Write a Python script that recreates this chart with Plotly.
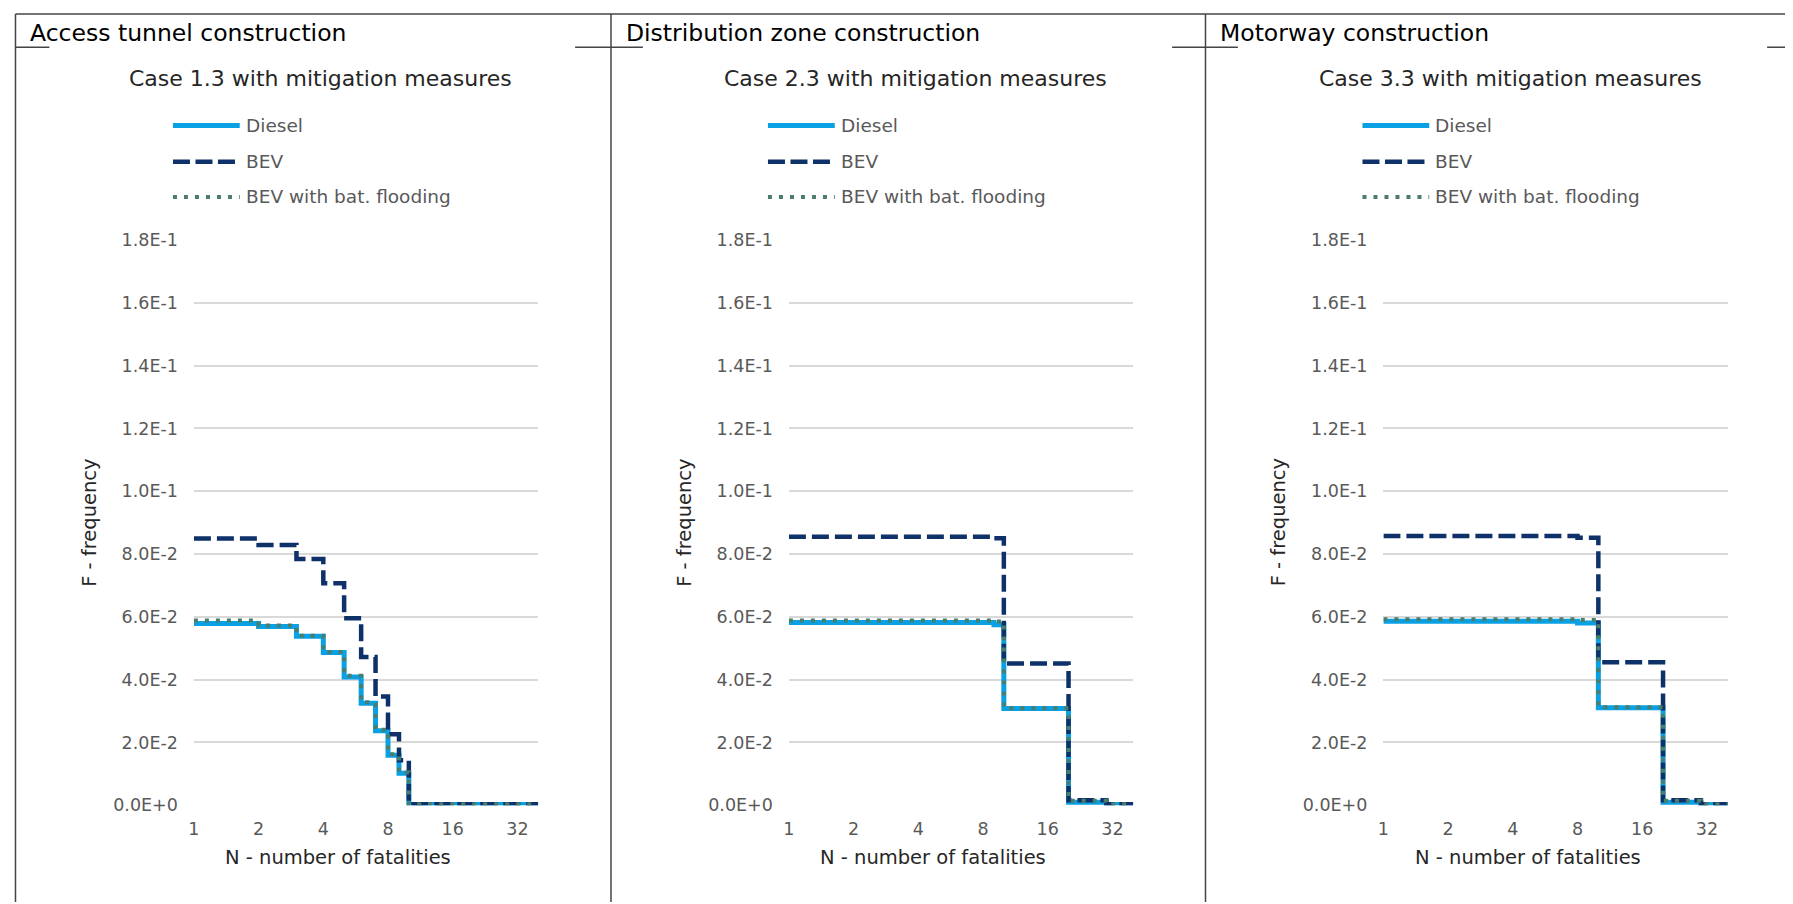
import math
import plotly.graph_objects as go

# ---------------- data ----------------
panel_headers = ["Access tunnel construction", "Distribution zone construction", "Motorway construction"]
chart_titles = ["Case 1.3 with mitigation measures", "Case 2.3 with mitigation measures",
                "Case 3.3 with mitigation measures"]
series_names = ["Diesel", "BEV", "BEV with bat. flooding"]

x_tick_vals = [1, 2, 4, 8, 16, 32]
x_tick_text = ["1", "2", "4", "8", "16", "32"]
y_tick_vals = [0.0, 0.02, 0.04, 0.06, 0.08, 0.10, 0.12, 0.14, 0.16, 0.18]
y_tick_text = ["0.0E+0", "2.0E-2", "4.0E-2", "6.0E-2", "8.0E-2", "1.0E-1", "1.2E-1", "1.4E-1", "1.6E-1", "1.8E-1"]
x_axis_title = "N - number of fatalities"
y_axis_title = "F - frequency"

# Case 1.3 (access tunnel)
n_case1 = [1, 2, 3, 4, 5, 6, 7, 8, 9, 10, 40]
diesel_case1 = [0.0579, 0.0569, 0.0538, 0.0486, 0.0408, 0.0325, 0.0237, 0.0159, 0.0102, 0.0002, 0.0002]
bev_case1 = [0.0849, 0.0829, 0.0784, 0.0707, 0.0595, 0.0472, 0.0346, 0.0226, 0.0143, 0.0003, 0.0003]
flood_case1 = [0.0588, 0.0572, 0.0540, 0.0488, 0.0412, 0.0328, 0.0240, 0.0162, 0.0104, 0.0003, 0.0003]

# Case 2.3 (distribution zone)
n_case2 = [1, 9, 10, 20, 30, 40]
diesel_case2 = [0.0582, 0.0575, 0.0308, 0.0009, 0.0002, 0.0002]
bev_case2 = [0.0855, 0.0850, 0.0451, 0.0016, 0.0003, 0.0003]
flood_case2 = [0.0588, 0.0585, 0.0309, 0.0014, 0.0003, 0.0003]

# Case 3.3 (motorway)
n_case3 = [1, 8, 10, 20, 30, 40]
diesel_case3 = [0.0586, 0.0580, 0.0310, 0.0009, 0.0002, 0.0002]
bev_case3 = [0.0857, 0.0852, 0.0455, 0.0016, 0.0003, 0.0003]
flood_case3 = [0.0592, 0.0590, 0.0312, 0.0014, 0.0003, 0.0003]

x_max = 40

# ---------------- styling / layout ----------------
W, H = 1793, 904
OFF = 8  # default page margin of the html body
FONT = "DejaVu Sans"

styles = [
    dict(color="#0AA0E4", width=5, dash="solid"),
    dict(color="#0F3169", width=4.5, dash="17px,6px"),
    dict(color="#4A7E6B", width=4, dash="4px,7px"),
]
legend_dash = ["solid", "17px,5.5px", "4px,7px"]


def px(x):
    return (x - OFF) / W


def py(y):
    return 1 - (y - OFF) / H


plot_left = [188.5, 785.5, 1382.0]
plot_w = 345.5
plot_top, plot_bottom = 235.0, 813.0
col_left = [9.5, 607.0, 1203.5]
title_cx = [316.0, 913.0, 1510.0]
title_y = 70
legend_y = [118, 155, 191]
header_y = 23
header_line_y = 38
top_border_y = 4

panels = [
    (n_case1, [diesel_case1, bev_case1, flood_case1]),
    (n_case2, [diesel_case2, bev_case2, flood_case2]),
    (n_case3, [diesel_case3, bev_case3, flood_case3]),
]

fig = go.Figure()
shapes = []
annotations = []

for i, (nvals, series) in enumerate(panels):
    sfx = "" if i == 0 else str(i + 1)
    for name, yvals, st in zip(series_names, series, styles):
        fig.add_trace(go.Scatter(
            x=nvals, y=yvals, name=name, mode="lines", line_shape="hv",
            line=dict(color=st["color"], width=st["width"], dash=st["dash"]),
            xaxis="x" + sfx, yaxis="y" + sfx, showlegend=False,
        ))

    L = plot_left[i]
    fig.layout["xaxis" + sfx] = dict(
        type="log", range=[0, math.log10(x_max)],
        domain=[px(L), px(L + plot_w)], anchor="y" + sfx,
        tickvals=x_tick_vals, ticktext=x_tick_text, showgrid=False, zeroline=False,
        showline=False, ticks="", ticklabelstandoff=11,
        tickfont=dict(family=FONT, size=17.5, color="#595959"),
    )
    fig.layout["yaxis" + sfx] = dict(
        range=[0, 0.18], domain=[py(plot_bottom), py(plot_top)], anchor="x" + sfx,
        tickvals=y_tick_vals, ticktext=y_tick_text, showgrid=True,
        gridcolor="#D9D9D9", gridwidth=1.5, zeroline=False, showline=False,
        ticks="", ticklabelstandoff=15,
        tickfont=dict(family=FONT, size=17.5, color="#595959"),
    )

    # chart title
    annotations.append(dict(text=chart_titles[i], x=px(title_cx[i]), y=py(title_y), xref="paper",
                            yref="paper", xanchor="center", yanchor="middle", showarrow=False,
                            font=dict(family=FONT, size=22, color="#262626")))
    # header
    annotations.append(dict(text=panel_headers[i], x=px(col_left[i] + 13), y=py(header_y), xref="paper",
                            yref="paper", xanchor="left", yanchor="middle", showarrow=False,
                            font=dict(family=FONT, size=23.5, color="#000000")))
    # axis titles
    annotations.append(dict(text=x_axis_title, x=px(L + 145), y=py(866), xref="paper", yref="paper",
                            xanchor="center", yanchor="middle", showarrow=False,
                            font=dict(family=FONT, size=19.5, color="#262626")))
    annotations.append(dict(text=y_axis_title, x=px(L - 105), y=py((plot_top + plot_bottom) / 2),
                            xref="paper", yref="paper", xanchor="center", yanchor="middle",
                            textangle=-90, showarrow=False,
                            font=dict(family=FONT, size=19.5, color="#262626")))
    # legend (drawn manually, as in the original chart)
    for k, (name, st) in enumerate(zip(series_names, styles)):
        ly = legend_y[k]
        shapes.append(dict(type="line", xref="paper", yref="paper",
                           x0=px(L - 21), x1=px(L + 46), y0=py(ly), y1=py(ly),
                           line=dict(color=st["color"], width=st["width"], dash=legend_dash[k])))
        annotations.append(dict(text=name, x=px(L + 50), y=py(ly), xref="paper", yref="paper",
                                xanchor="left", yanchor="middle", showarrow=False,
                                font=dict(family=FONT, size=18.5, color="#595959")))

# table frame
border = dict(color="#444444", width=1.5)
shapes.append(dict(type="line", xref="paper", yref="paper", x0=px(col_left[0]), x1=px(W + OFF),
                   y0=py(top_border_y), y1=py(top_border_y), line=border))
for xl in col_left:
    shapes.append(dict(type="line", xref="paper", yref="paper", x0=px(xl), x1=px(xl),
                       y0=py(top_border_y), y1=py(H + OFF), line=border))
for a, b in [(9.5, 43.5), (571, 639), (1170, 1236), (1767, W + OFF)]:
    shapes.append(dict(type="line", xref="paper", yref="paper", x0=px(a), x1=px(b),
                       y0=py(header_line_y), y1=py(header_line_y), line=border))

fig.update_layout(
    width=W, height=H, margin=dict(l=0, r=0, t=0, b=0),
    paper_bgcolor="white", plot_bgcolor="white",
    shapes=shapes, annotations=annotations, showlegend=False,
)

fig.write_html("out.html")
